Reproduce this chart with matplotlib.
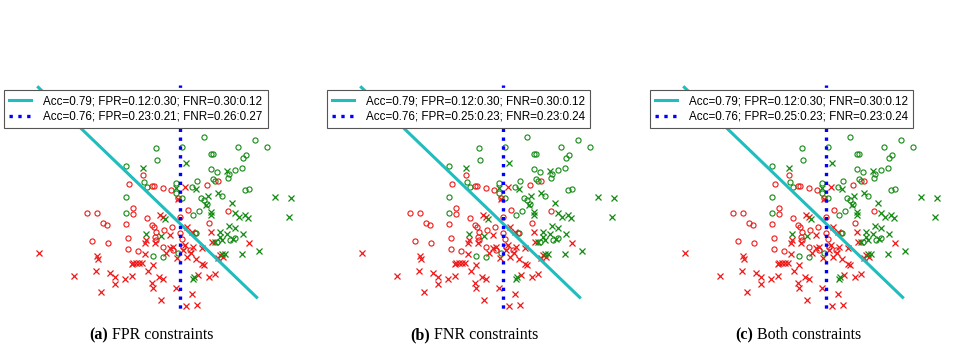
import matplotlib.pyplot as plt

# feature values (same sample in all three panels)
pos_o_x = [0.72, 2.25, 2.60, -0.72, 0.05, 1.75, -0.68, 0.94, 1.00, 1.98, 1.88, -1.62, 0.92, 1.12,
           1.65, 1.85, 1.48, 1.43, 1.00, 1.05, 0.50, -1.07, -0.13, 0.35, 1.25, 1.95, 2.08, -1.62,
           -1.00, -0.13, 0.05, 0.63, 0.72, 0.80, -1.62, 0.56, 0.40, 1.65, 1.50, 1.10, -0.80, -0.52,
           -0.05, 0.47]
pos_o_y = [2.50, 2.40, 2.18, 2.15, 2.20, 2.18, 1.80, 1.98, 1.98, 1.95, 1.87, 1.62, 1.52, 1.45,
           1.50, 1.55, 1.38, 1.25, 1.22, 1.18, 1.18, 1.15, 1.12, 1.00, 0.72, 0.90, 0.94, 0.70,
           0.98, 0.80, 0.65, 0.65, 0.60, 0.48, 0.22, 0.28, 0.15, -0.55, -0.60, -0.65, -1.08, -1.10,
           -0.98, -0.38]

pos_x_x = [0.18, -1.10, 1.40, -0.13, 0.48, 1.15, 2.85, 3.32, 0.85, 0.77, 1.55, -0.45, 0.92, 0.92,
           1.65, 1.78, 1.95, 2.05, 3.28, 1.48, 1.65, -1.02, -0.57, 1.20, 1.20, 1.40, 1.27, 1.90,
           1.60, 1.05, 1.25, 1.35, 1.85, 2.38, 0.40, 0.43]
pos_x_y = [1.72, 1.57, 1.48, 0.95, 0.93, 0.80, 0.68, 0.65, 0.72, 0.45, 0.52, 0.02, 0.25, 0.15,
           0.20, 0.08, 0.15, 0.05, 0.08, -0.18, -0.25, -0.42, -0.48, -0.35, -0.50, -0.42, -0.60, -0.43,
           -0.58, -0.65, -1.02, -1.02, -1.02, -0.93, -1.78, -1.72]

neg_o_x = [1.15, -1.10, -1.52, -0.85, -0.78, -0.50, -0.28, 0.82, -0.05, -1.42, -1.40, -2.80, -2.48,
           -2.32, -2.18, -1.62, -1.00, -0.85, -0.78, 0.00, 0.25, 1.45, 0.87, 0.45, -0.23, -0.73,
           -0.75, -0.47, -1.57, -2.65, -2.17, -0.72, -0.50, 0.00, 0.05, 0.08, 0.30, -1.57, -1.25, -0.20]
neg_o_y = [1.18, 1.35, 1.08, 1.02, 1.02, 0.97, 0.90, 1.05, 0.65, 0.35, 0.18, 0.20, 0.22,
           -0.08, -0.15, -0.12, 0.05, -0.15, -0.20, 0.08, 0.30, 0.28, -0.08, -0.38, -0.20, -0.35,
           -0.50, -0.30, -0.55, -0.62, -0.68, -0.60, -0.80, -0.38, -0.58, -0.80, -0.90, -0.88, -0.94, -0.90]

neg_x_x = [0.15, -0.05, -0.60, -0.50, 0.20, 0.35, -0.30, -1.05, -0.75, -1.03, 0.92, 0.95, 2.08,
           0.40, 0.65, 0.15, 0.08, 0.32, -4.22, -2.50, -2.45, -1.05, -0.43, -0.30, -0.20, -0.10,
           0.20, 0.48, 0.65, 0.72, 1.20, 1.15, 1.28, -1.45, -1.40, -1.32, -1.22, -1.15, -0.80,
           -0.96, -2.53, -2.10, -1.95, -1.95, -3.18, -1.65, -1.45, -0.63, -0.52, -0.85, -0.80,
           -0.13, 0.55, 0.88, 1.05, -2.38, 0.35, -0.57, 0.18, 0.50]
neg_x_y = [0.98, 0.62, 0.15, 0.10, -0.20, -0.35, -0.45, -0.70, -0.70, -0.60, -0.35, -0.65, -0.70,
           -0.80, -0.85, -0.75, -0.90, -1.00, -0.98, -1.07, -1.18, -1.02, -1.00, -0.85, -0.80, -1.15,
           -1.10, -1.18, -1.33, -1.35, -1.05, -1.15, -1.10, -1.32, -1.30, -1.30, -1.28, -1.30, -1.35,
           -1.52, -1.53, -1.60, -1.70, -1.92, -1.68, -1.78, -1.68, -1.70, -1.78, -1.90, -2.05,
           -2.05, -1.65, -1.72, -1.62, -2.15, -2.22, -2.40, -2.58, -2.55]

# classifier boundaries
unc_x = [-4.25, 2.30]
unc_y = [3.98, -2.32]
fair_x = [0.0, 0.0]
fair_y = [-2.9, 4.05]

unc_label = "Acc=0.79; FPR=0.12:0.30; FNR=0.30:0.12"
fair_labels = ["Acc=0.76; FPR=0.23:0.21; FNR=0.26:0.27",
               "Acc=0.76; FPR=0.25:0.23; FNR=0.23:0.24",
               "Acc=0.76; FPR=0.25:0.23; FNR=0.23:0.24"]
tags = ["(a)", "(b)", "(c)"]
captions = ["FPR constraints", "FNR constraints", "Both constraints"]
split_px = [108, 430, 753]

W, H = 980, 348
fig = plt.figure(figsize=(W / 100, H / 100), dpi=100)

for i in range(3):
    left = i * 323
    ax = fig.add_axes([left / W, (H - 312) / H, 322 / W, 232 / H])
    ax.set_xlim(-5.40, 4.26)
    ax.set_ylim(-2.76, 4.20)
    ax.axis('off')

    ms = 3.7
    ax.plot(neg_o_x, neg_o_y, 'o', ms=ms, mfc='none', mec='#f01818', mew=0.8)
    ax.plot(neg_x_x, neg_x_y, 'x', ms=ms, color='#f01818', mew=0.9)
    ax.plot(pos_o_x, pos_o_y, 'o', ms=ms, mfc='none', mec='#138a13', mew=0.8)
    ax.plot(pos_x_x, pos_x_y, 'x', ms=ms, color='#138a13', mew=0.9)

    l1, = ax.plot(unc_x, unc_y, '-', color='#1fbdbd', lw=2.2, clip_on=False)
    l2, = ax.plot(fair_x, fair_y, ':', color='#0000ff', lw=2.4, clip_on=True)

    leg = ax.legend([l1, l2], [unc_label, fair_labels[i]], loc='upper left',
                    bbox_to_anchor=(4 / 322, (312 - 90) / 232), borderaxespad=0,
                    prop={'family': 'Liberation Sans', 'size': 8.4},
                    fancybox=False, framealpha=1, edgecolor='#555555',
                    handlelength=1.9, labelspacing=0.3, borderpad=0.45, handletextpad=1.0)
    leg.get_frame().set_linewidth(0.8)

    fig.text(split_px[i] / W, 1 - 335 / H, tags[i], ha='right', va='center',
             family='Liberation Serif', weight='bold', size=11.5)
    fig.text((split_px[i] + 4) / W, 1 - 335 / H, captions[i], ha='left', va='center',
             family='Liberation Serif', size=11.5)

fig.savefig('out.png', dpi=100)
